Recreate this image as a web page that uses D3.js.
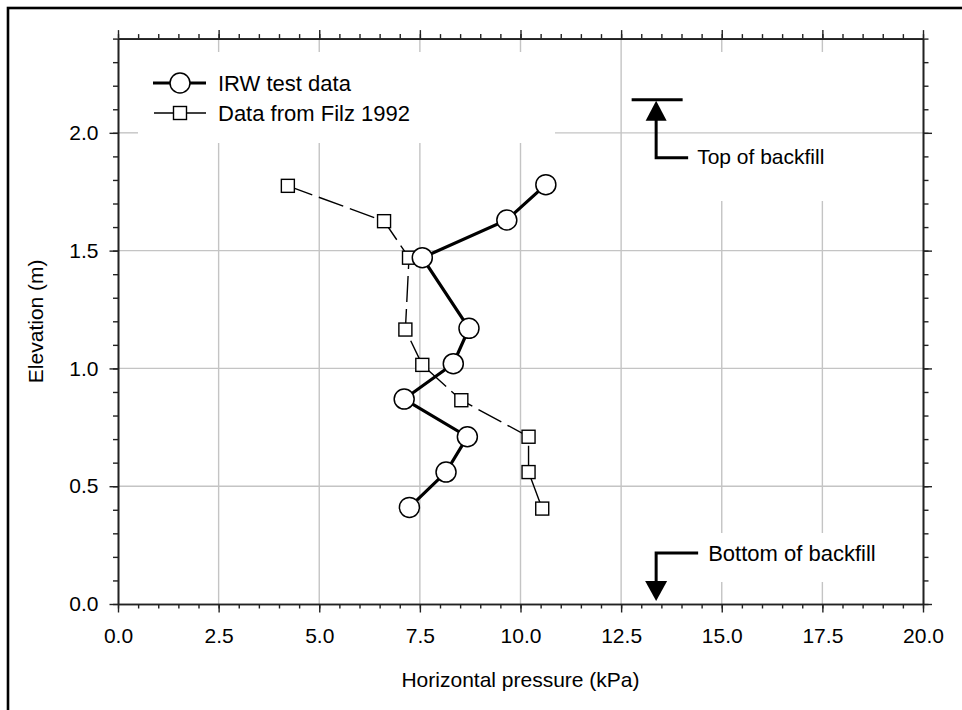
<!DOCTYPE html>
<html><head><meta charset="utf-8">
<script src="https://cdn.jsdelivr.net/npm/d3@7"></script>
<style>
html,body{margin:0;padding:0;background:#fff;}
text{font-family:"Liberation Sans",Arial,sans-serif;fill:#000;}
</style></head>
<body>
<svg id="chart" width="962" height="710"></svg>
<script>
// ---- data ----
const irwPressure = [10.63, 9.66, 7.56, 8.72, 8.33, 7.11, 8.68, 8.15, 7.24];
const irwElevation = [1.78, 1.63, 1.47, 1.17, 1.02, 0.87, 0.71, 0.56, 0.41];
const filzPressure = [4.22, 6.61, 7.23, 7.14, 7.56, 8.53, 10.20, 10.20, 10.54];
const filzElevation = [1.775, 1.625, 1.47, 1.165, 1.015, 0.865, 0.71, 0.56, 0.405];
const xTicks = [0, 2.5, 5, 7.5, 10, 12.5, 15, 17.5, 20];
const yTicks = [0, 0.5, 1.0, 1.5, 2.0];
const seriesNames = ["IRW test data", "Data from Filz 1992"];
const annotations = ["Top of backfill", "Bottom of backfill"];
const backfillX = 13.37, backfillTop = 2.14, backfillBottom = 0.0;

const svg = d3.select("#chart");
const x = d3.scaleLinear().domain([0, 20]).range([118, 923]);
const y = d3.scaleLinear().domain([0, 2.4]).range([604, 38.6]);
const L = x(0), R = x(20), T = y(2.4), B = y(0);

// outer frame
svg.append("rect").attr("x", 8).attr("y", 8).attr("width", 1000).attr("height", 1000)
  .attr("fill", "none").attr("stroke", "#000").attr("stroke-width", 2.6);

// ---- grid ----
const grid = svg.append("g").attr("stroke", "#c4c4c4").attr("stroke-width", 1.4);
yTicks.filter(v => v > 0).forEach(v => {
  if (v === 2.0) {
    grid.append("line").attr("x1", L).attr("x2", 138).attr("y1", y(v)).attr("y2", y(v));
    grid.append("line").attr("x1", 555).attr("x2", R).attr("y1", y(v)).attr("y2", y(v));
  } else {
    grid.append("line").attr("x1", L).attr("x2", R).attr("y1", y(v)).attr("y2", y(v));
  }
});
xTicks.filter(v => v > 0 && v < 20).forEach(v => {
  let segs;
  if (v <= 10) segs = [[T, 52], [143, B]];
  else if (v === 12.5) segs = [[T, B]];
  else segs = [[T, 52], [201, 533], [582, B]];
  segs.forEach(s => grid.append("line").attr("x1", x(v)).attr("x2", x(v)).attr("y1", s[0]).attr("y2", s[1]));
});

// ---- data lines ----
const irw = irwPressure.map((p, i) => [p, irwElevation[i]]);
const filz = filzPressure.map((p, i) => [p, filzElevation[i]]);
const line = d3.line().x(d => x(d[0])).y(d => y(d[1]));

svg.append("path").datum(filz).attr("d", line).attr("fill", "none")
  .attr("stroke", "#000").attr("stroke-width", 1.4).attr("stroke-dasharray", "26,7");
svg.append("path").datum(irw).attr("d", line).attr("fill", "none")
  .attr("stroke", "#000").attr("stroke-width", 3.2);

svg.append("g").selectAll("rect").data(filz).join("rect")
  .attr("x", d => x(d[0]) - 6.5).attr("y", d => y(d[1]) - 6.5)
  .attr("width", 13).attr("height", 13)
  .attr("fill", "#fff").attr("stroke", "#000").attr("stroke-width", 1.4);
svg.append("g").selectAll("circle").data(irw).join("circle")
  .attr("cx", d => x(d[0])).attr("cy", d => y(d[1])).attr("r", 10)
  .attr("fill", "#fff").attr("stroke", "#000").attr("stroke-width", 1.5);

// ---- axes ----
function styleAxis(g) {
  g.select(".domain").attr("stroke", "#222").attr("stroke-width", 1.6);
  g.selectAll(".tick line").attr("stroke", "#222").attr("stroke-width", 1.4);
  g.selectAll("text").attr("font-size", 21).attr("font-family", "Liberation Sans, Arial, sans-serif").attr("fill", "#000");
}
const minorX = d3.range(0, 20.001, 0.5);
const minorY = d3.range(0, 2.4001, 0.1);
const fmt = d3.format(".1f");

svg.append("g").attr("transform", `translate(0,${B})`)
  .call(d3.axisBottom(x).tickValues(minorX).tickSize(4.5).tickSizeOuter(0).tickFormat("")).call(styleAxis);
svg.append("g").attr("transform", `translate(0,${B})`)
  .call(d3.axisBottom(x).tickValues(xTicks).tickSize(8.5).tickSizeOuter(0).tickPadding(15.5).tickFormat(fmt)).call(styleAxis);

svg.append("g").attr("transform", `translate(0,${T})`)
  .call(d3.axisTop(x).tickValues(minorX).tickSize(4.5).tickSizeOuter(0).tickFormat("")).call(styleAxis);
svg.append("g").attr("transform", `translate(0,${T})`)
  .call(d3.axisTop(x).tickValues(xTicks).tickSize(8.5).tickSizeOuter(0).tickFormat("")).call(styleAxis);

svg.append("g").attr("transform", `translate(${L},0)`)
  .call(d3.axisLeft(y).tickValues(minorY).tickSize(5).tickSizeOuter(0).tickFormat("")).call(styleAxis);
svg.append("g").attr("transform", `translate(${L},0)`)
  .call(d3.axisLeft(y).tickValues(yTicks).tickSize(8.5).tickSizeOuter(0).tickPadding(11).tickFormat(fmt)).call(styleAxis);

svg.append("g").attr("transform", `translate(${R},0)`)
  .call(d3.axisRight(y).tickValues(minorY).tickSize(5.5).tickSizeOuter(0).tickFormat("")).call(styleAxis);
svg.append("g").attr("transform", `translate(${R},0)`)
  .call(d3.axisRight(y).tickValues(yTicks).tickSize(9).tickSizeOuter(0).tickFormat("")).call(styleAxis);

// axis titles
svg.append("text").attr("x", (L + R) / 2).attr("y", 687).attr("text-anchor", "middle")
  .attr("font-size", 21).text("Horizontal pressure (kPa)");
svg.append("text").attr("transform", `translate(43,${(T + B) / 2}) rotate(-90)`)
  .attr("text-anchor", "middle").attr("font-size", 21).text("Elevation (m)");

// ---- annotations ----
const ann = svg.append("g");
const ax = x(backfillX);
const ty = y(backfillTop);
ann.append("line").attr("x1", ax - 24.5).attr("x2", ax + 26.5).attr("y1", ty).attr("y2", ty)
  .attr("stroke", "#000").attr("stroke-width", 3);
ann.append("path").attr("d", `M${ax},${ty + 1} L${ax - 10.5},${ty + 21} L${ax + 10.5},${ty + 21} Z`).attr("fill", "#000");
ann.append("path").attr("d", `M${ax},${ty + 20} L${ax},${ty + 58} L${ax + 32},${ty + 58}`)
  .attr("fill", "none").attr("stroke", "#000").attr("stroke-width", 3);
ann.append("text").attr("x", ax + 41).attr("y", ty + 64).attr("font-size", 21).text(annotations[0]);
const by = y(backfillBottom);
ann.append("path").attr("d", `M${ax},${by - 23} L${ax},${by - 51} L${ax + 42},${by - 51}`)
  .attr("fill", "none").attr("stroke", "#000").attr("stroke-width", 3);
ann.append("path").attr("d", `M${ax},${by - 3} L${ax - 11},${by - 23} L${ax + 11},${by - 23} Z`).attr("fill", "#000");
ann.append("text").attr("x", ax + 52).attr("y", by - 43).attr("font-size", 22).text(annotations[1]);

// ---- legend ----
const lg = svg.append("g");
lg.append("line").attr("x1", 153).attr("x2", 206).attr("y1", 83).attr("y2", 83)
  .attr("stroke", "#000").attr("stroke-width", 3.2);
lg.append("circle").attr("cx", 180).attr("cy", 83).attr("r", 10)
  .attr("fill", "#fff").attr("stroke", "#000").attr("stroke-width", 1.5);
lg.append("text").attr("x", 218).attr("y", 91).attr("font-size", 22).text(seriesNames[0]);
lg.append("line").attr("x1", 154).attr("x2", 206).attr("y1", 113).attr("y2", 113)
  .attr("stroke", "#000").attr("stroke-width", 1.4);
lg.append("rect").attr("x", 180 - 6.5).attr("y", 113 - 6.5).attr("width", 13).attr("height", 13)
  .attr("fill", "#fff").attr("stroke", "#000").attr("stroke-width", 1.4);
lg.append("text").attr("x", 218).attr("y", 121).attr("font-size", 22).text(seriesNames[1]);
</script>
</body></html>
